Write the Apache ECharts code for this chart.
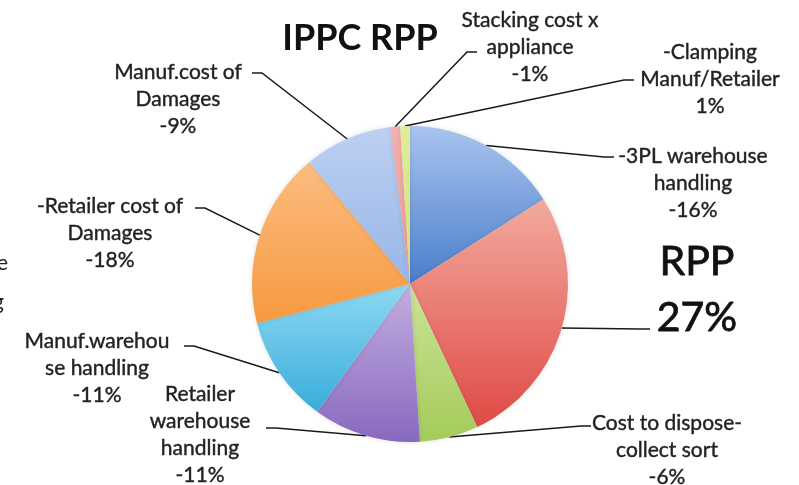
<!DOCTYPE html>
<html><head><meta charset="utf-8">
<script src="https://cdn.jsdelivr.net/npm/echarts@6/dist/echarts.min.js"></script>
<style>html,body{margin:0;padding:0;background:#fff}#c{width:799px;height:485px}</style>
</head><body><div id="c"></div>
<script>
// ---- data ----
const categories = ['-3PL warehouse\nhandling', 'RPP', 'Cost to dispose-\ncollect sort', 'Retailer\nwarehouse\nhandling', 'Manuf.warehou\nse handling', '-Retailer cost of\nDamages', 'Manuf.cost of\nDamages', 'Stacking cost x\nappliance', '-Clamping\nManuf/Retailer'];
const values = [16, 27, 6, 11, 11, 18, 9, 1, 1];
const signs = ['-', '', '-', '-', '-', '-', '-', '-', ''];
const titleText = 'IPPC RPP';

// ---- styles / layout (not data) ----
const topColors = ['#a9c4ee', '#f2aa9e', '#cbe497', '#c4aedf', '#8fd8f2', '#fbbd80', '#bcd0f2', '#f3b0ae', '#e0ec9c'];
const bottomColors = ['#4a7ecb', '#e04a45', '#a4cb5a', '#8769c0', '#37aedb', '#f7993e', '#98b6e6', '#ec9a98', '#cfe07a'];
// [labelCenterX, labelCenterY, lineEndX, lineEndY]
const labelPos = [
  [693, 183, 614, 157],
  [697, 290, 650, 329],
  [667, 450, 591, 426],
  [200, 435, 266, 428],
  [97, 368, 184, 346],
  [110, 233, 195, 208],
  [178, 99, 252, 73],
  [530, 47, 477, 52],
  [710, 79, 634, 80]
];
const center = [410, 284];
const radius = 158;

const total = values.reduce((a, b) => a + b, 0);
function edgePoint(i) {
  let before = 0;
  for (let k = 0; k < i; k++) before += values[k];
  const mid = (before + values[i] / 2) / total * Math.PI * 2;
  return [center[0] + radius * Math.sin(mid), center[1] - radius * Math.cos(mid)];
}

const data = categories.map((name, i) => {
  const item = {
    name: name,
    value: values[i],
    itemStyle: {
      color: new echarts.graphic.LinearGradient(0, 0, 0, 1, [
        { offset: 0, color: topColors[i] },
        { offset: 1, color: bottomColors[i] }
      ])
    }
  };
  if (name === 'RPP') {
    item.label = { fontSize: 41, lineHeight: 56, color: '#111', textBorderColor: '#111', textBorderWidth: 0.8 };
  }
  return item;
});

const chart = echarts.init(document.getElementById('c'), null, { renderer: 'canvas' });
chart.setOption({
  backgroundColor: '#ffffff',
  animation: false,
  title: {
    text: titleText,
    left: 355,
    top: 15,
    textAlign: 'center',
    textStyle: { fontFamily: 'Lato', fontWeight: 'bold', fontSize: 36, color: '#111' }
  },
  graphic: [
    { type: 'text', x: 8, y: 263, style: { text: 'e', fontFamily: 'Lato', fontSize: 21, fill: '#222', align: 'right', verticalAlign: 'middle' } },
    { type: 'text', x: 4, y: 302, style: { text: 'g', fontFamily: 'Lato', fontSize: 21, fill: '#222', align: 'right', verticalAlign: 'middle' } }
  ],
  series: [{
    type: 'pie',
    center: center,
    radius: radius,
    startAngle: 90,
    clockwise: true,
    avoidLabelOverlap: false,
    data: data,
    itemStyle: { borderWidth: 0, shadowBlur: 5, shadowColor: 'rgba(0,0,0,0.12)' },
    label: {
      show: true,
      fontFamily: 'Lato',
      fontSize: 21,
      lineHeight: 27,
      color: '#222',
      textBorderColor: '#222',
      textBorderWidth: 0.4,
      align: 'center',
      formatter: function (p) { return p.name + '\n' + signs[p.dataIndex] + p.value + '%'; }
    },
    labelLine: { show: true, length: 10, length2: 10, smooth: false, lineStyle: { color: '#1a1a1a', width: 1.5 } },
    labelLayout: function (params) {
      const i = params.dataIndex;
      const p = labelPos[i];
      const start = (params.labelLinePoints && params.labelLinePoints[0]) ? params.labelLinePoints[0] : edgePoint(i);
      const dir = start[0] > p[2] ? 1 : -1;
      return {
        x: p[0],
        y: p[1],
        align: 'center',
        verticalAlign: 'middle',
        labelLinePoints: [start, [p[2] + dir * 10, p[3]], [p[2], p[3]]]
      };
    },
    emphasis: { disabled: true }
  }]
});
</script>
</body></html>
